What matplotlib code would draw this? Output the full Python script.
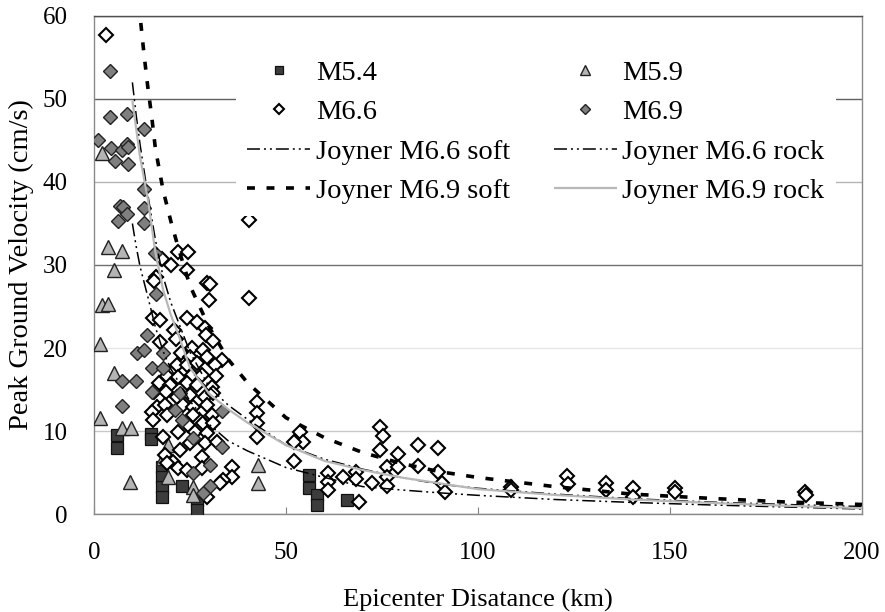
import matplotlib
matplotlib.use("Agg")
import matplotlib.pyplot as plt

plt.rcParams['font.family'] = ['Liberation Serif', 'DejaVu Serif']

# ---- recorded peak ground velocities (epicentral distance km, PGV cm/s) ----
m54_x = [6.0, 6.0, 14.8, 14.8, 17.7, 17.7, 17.7, 17.7, 22.9, 26.8, 26.8,
         56.0, 56.0, 58.1, 58.1, 65.9]
m54_y = [9.5, 8.0, 9.6, 9.0, 5.7, 4.5, 3.3, 2.0, 3.4, 1.7, 0.5,
         4.7, 3.1, 2.3, 1.1, 1.7]

m59_x = [2.1, 3.6, 7.3, 5.2, 2.1, 3.6, 1.6, 5.2, 1.6, 7.3, 9.6, 9.4,
         19.3, 18.0, 19.3, 25.8, 25.8, 42.7, 42.7]
m59_y = [43.5, 32.2, 31.7, 29.4, 25.2, 25.3, 20.5, 17.0, 11.6, 10.4, 10.4, 3.9,
         8.3, 6.7, 4.5, 3.3, 2.3, 5.9, 3.7]

m66_x = [3.1, 21.9, 24.5, 17.7, 20.1, 24.2, 16.1, 15.6, 29.4, 30.2, 29.9, 40.4, 40.4,
         15.4, 17.2, 24.2, 26.8, 28.9, 29.2, 31.0, 20.8, 21.4, 17.2, 25.5, 22.7,
         25.0, 28.4, 29.4, 33.3, 21.6, 24.2, 26.8, 31.5, 19.0, 21.9, 25.5, 28.1,
         31.8, 16.9, 19.8, 24.2, 26.8, 30.7, 15.6, 18.8, 21.6, 25.0, 28.9, 31.0,
         16.4, 18.5, 23.2, 25.8, 29.4, 15.1, 19.0, 25.8, 30.7, 15.4, 24.5, 28.4,
         31.0, 21.9, 26.3, 29.4, 18.0, 22.4, 25.0, 28.9, 32.0, 18.5, 20.6, 28.1,
         21.9, 24.2, 28.1, 35.9, 35.9, 33.6, 32.8, 29.4, 19.0,
         42.4, 42.4, 42.4, 42.4, 53.6, 54.4, 52.1, 52.1, 60.9, 60.9, 60.9, 64.8,
         68.3, 68.3, 69.0, 74.5, 75.3, 74.5, 79.2, 84.4, 89.6, 76.3, 79.2, 84.4,
         89.6, 76.3, 90.6, 91.4, 72.4, 76.3, 108.6, 108.6, 123.2, 123.4, 133.3,
         133.3, 140.4, 140.4, 151.3, 151.3, 185.2, 185.4]
m66_y = [57.7, 31.6, 31.6, 30.7, 30.0, 29.4, 28.6, 28.1, 27.8, 27.7, 25.8, 26.0, 35.4,
         23.6, 23.4, 23.6, 23.1, 22.4, 21.6, 20.8, 22.2, 21.1, 20.7, 20.0, 19.4,
         18.9, 19.8, 18.9, 18.6, 18.0, 18.0, 18.2, 18.0, 16.6, 16.5, 16.7, 16.7,
         16.6, 15.8, 15.5, 15.8, 15.5, 15.3, 14.7, 14.7, 14.1, 14.3, 14.1, 14.6,
         12.9, 13.1, 13.1, 12.9, 13.1, 12.3, 11.9, 11.9, 11.9, 11.3, 10.7, 11.0,
         11.0, 9.9, 9.9, 9.8, 9.3, 7.7, 8.6, 8.6, 8.7, 7.1, 6.3, 6.9,
         5.5, 5.3, 5.5, 5.7, 4.5, 4.1, 3.7, 2.0, 6.1,
         13.5, 12.2, 11.0, 9.3, 9.9, 8.7, 8.7, 6.4, 4.9, 3.9, 2.9, 4.5,
         5.1, 4.2, 1.5, 10.5, 9.4, 7.7, 7.2, 8.3, 8.0, 5.7, 5.7, 5.8,
         5.1, 4.5, 3.7, 2.7, 3.7, 3.4, 3.3, 2.9, 4.6, 3.6, 3.7,
         2.9, 3.1, 2.0, 3.1, 2.7, 2.7, 2.3]

m69_x = [4.2, 4.2, 8.6, 1.0, 4.4, 7.3, 8.6, 8.9, 5.5, 8.9, 13.0,
         13.0, 6.8, 7.6, 8.6, 6.3, 13.0, 13.0, 15.9, 16.1, 13.8,
         11.2, 13.0, 18.0, 7.3, 10.9, 15.1, 18.0, 15.1, 22.4, 7.3, 21.1, 22.9,
         33.3, 25.8, 33.3, 30.2, 25.8, 30.2, 28.4]
m69_y = [53.4, 47.8, 48.2, 45.0, 44.1, 43.8, 44.6, 44.2, 42.5, 42.2, 46.4,
         39.2, 37.1, 37.0, 36.1, 35.3, 36.9, 35.0, 31.4, 26.5, 21.6,
         19.4, 19.8, 19.4, 16.0, 16.0, 17.6, 17.6, 14.7, 14.6, 13.0, 12.5, 11.3,
         12.4, 9.2, 8.1, 5.9, 4.9, 3.4, 2.5]

# ---- Joyner attenuation curves ----
j66_soft_x = [10, 11, 12, 14, 16, 18, 20, 25, 30, 35, 40, 50, 60, 70, 80, 90,
              100, 120, 140, 160, 180, 200]
j66_soft_y = [52.0, 48.0, 44.5, 38.5, 33.0, 28.6, 25.5, 19.5, 15.3, 13.1, 11.4, 8.3,
              6.6, 5.4, 4.4, 3.6, 3.1, 2.4, 1.85, 1.45, 1.15, 0.9]

j66_rock_x = [10, 11, 12, 13, 14, 16, 18, 20, 25, 30, 35, 40, 50, 60, 70, 80,
              90, 100, 120, 140, 160, 180, 200]
j66_rock_y = [35.0, 32.2, 29.8, 28.0, 26.2, 22.5, 19.6, 17.5, 13.6, 10.8, 8.8, 7.6,
              5.6, 4.4, 3.3, 2.9, 2.55, 2.25, 1.75, 1.4, 1.1, 0.85, 0.6]

j69_soft_x = [11.8, 12, 13, 14, 15, 16, 18, 20, 22, 25, 30, 35, 40, 50, 60, 70,
              80, 90, 100, 120, 140, 160, 180, 200]
j69_soft_y = [61.5, 60.0, 55.5, 51.5, 48.0, 44.0, 39.0, 35.3, 32.0, 27.5, 22.5, 18.6,
              15.8, 11.6, 9.2, 7.4, 6.1, 5.1, 4.4, 3.3, 2.4, 1.9, 1.45, 1.15]

j69_rock_x = [10, 12, 14, 16, 18, 20, 22, 25, 30, 35, 40, 50, 60, 70, 80, 90,
              100, 120, 140, 160, 180, 200]
j69_rock_y = [49.8, 43.0, 38.0, 31.5, 27.0, 24.0, 21.6, 17.6, 14.5, 12.6, 11.0, 8.3,
              6.4, 5.3, 4.4, 3.7, 3.0, 2.3, 1.75, 1.35, 1.0, 0.7]

x_ticks = [0, 50, 100, 150, 200]
y_ticks = [0, 10, 20, 30, 40, 50, 60]

fig = plt.figure(figsize=(8.85, 6.12), dpi=100)
ax = fig.add_axes([0.1062, 0.1601, 0.8678, 0.8138])

# curves
dash_dot2 = (8.5, 2.6, 1.3, 2.6, 1.3, 2.6)
l_66s, = ax.plot(j66_soft_x, j66_soft_y, color='black', lw=1.1,
                 dashes=dash_dot2, zorder=4)
l_66r, = ax.plot(j66_rock_x, j66_rock_y, color='black', lw=1.1,
                 dashes=dash_dot2, zorder=4)
l_69s, = ax.plot(j69_soft_x, j69_soft_y, color='black', lw=2.6,
                 dashes=(2.2, 3.2), zorder=4)
l_69r, = ax.plot(j69_rock_x, j69_rock_y, color='#b8b8b8', lw=1.6,
                 solid_capstyle='butt', zorder=4)

# recorded data
s54, = ax.plot(m54_x, m54_y, ls='none', marker='s', ms=8.3, mfc='#3c3c3c',
               mec='#111111', mew=0.9, zorder=3)
s59, = ax.plot(m59_x, m59_y, ls='none', marker='^', ms=9.5, mfc='#b4b4b4',
               mec='#222222', mew=1.0, zorder=3)
s66, = ax.plot(m66_x, m66_y, ls='none', marker='D', ms=6.8, mfc='white',
               mec='black', mew=1.5, zorder=3)
s69, = ax.plot(m69_x, m69_y, ls='none', marker='D', ms=6.8, mfc='#7f7f7f',
               mec='#222222', mew=1.0, zorder=3)

ax.set_xlim(0, 200)
ax.set_ylim(0, 60)
ax.set_xticks(x_ticks)
ax.set_yticks(y_ticks)
ax.tick_params(axis='x', direction='in', length=5, width=0.8, color='#808080',
               labelsize=18, pad=20)
ax.tick_params(axis='y', length=0, labelsize=18, pad=19)

ax.yaxis.grid(True, lw=1.0)
grid_cols = ['#a0a0a0', '#c8c8c8', '#e6e6e6', '#707070', '#b4b4b4', '#606060', '#606060']
for gl, c in zip(ax.get_ygridlines(), grid_cols):
    gl.set_color(c)
ax.set_axisbelow(True)

for side in ['left', 'right', 'bottom']:
    ax.spines[side].set_color('#8a8a8a')
    ax.spines[side].set_linewidth(1.0)
ax.spines['top'].set_color('#505050')
ax.spines['top'].set_linewidth(1.0)

ax.set_xlabel('Epicenter Disatance (km)', fontsize=19, labelpad=18)
ax.set_ylabel('Peak Ground Velocity (cm/s)', fontsize=20.5, labelpad=6)

handles = [s54, s66, l_66s, l_69s, s59, s69, l_66r, l_69r]
labels = ['M5.4', 'M6.6', 'Joyner M6.6 soft', 'Joyner M6.9 soft',
          'M5.9', 'M6.9', 'Joyner M6.6 rock', 'Joyner M6.9 rock']
leg = ax.legend(handles, labels, ncol=2, loc='upper left',
                bbox_to_anchor=(0.185, 0.935), borderaxespad=0,
                fontsize=20.5, handlelength=2.2, handletextpad=0.2,
                columnspacing=1.55, labelspacing=0.48, borderpad=0.4,
                fancybox=False, framealpha=1.0, markerscale=0.75)
leg.get_frame().set_facecolor('white')
leg.get_frame().set_edgecolor('none')
leg.set_zorder(6)

fig.savefig('out.png', dpi=100, facecolor='white')
